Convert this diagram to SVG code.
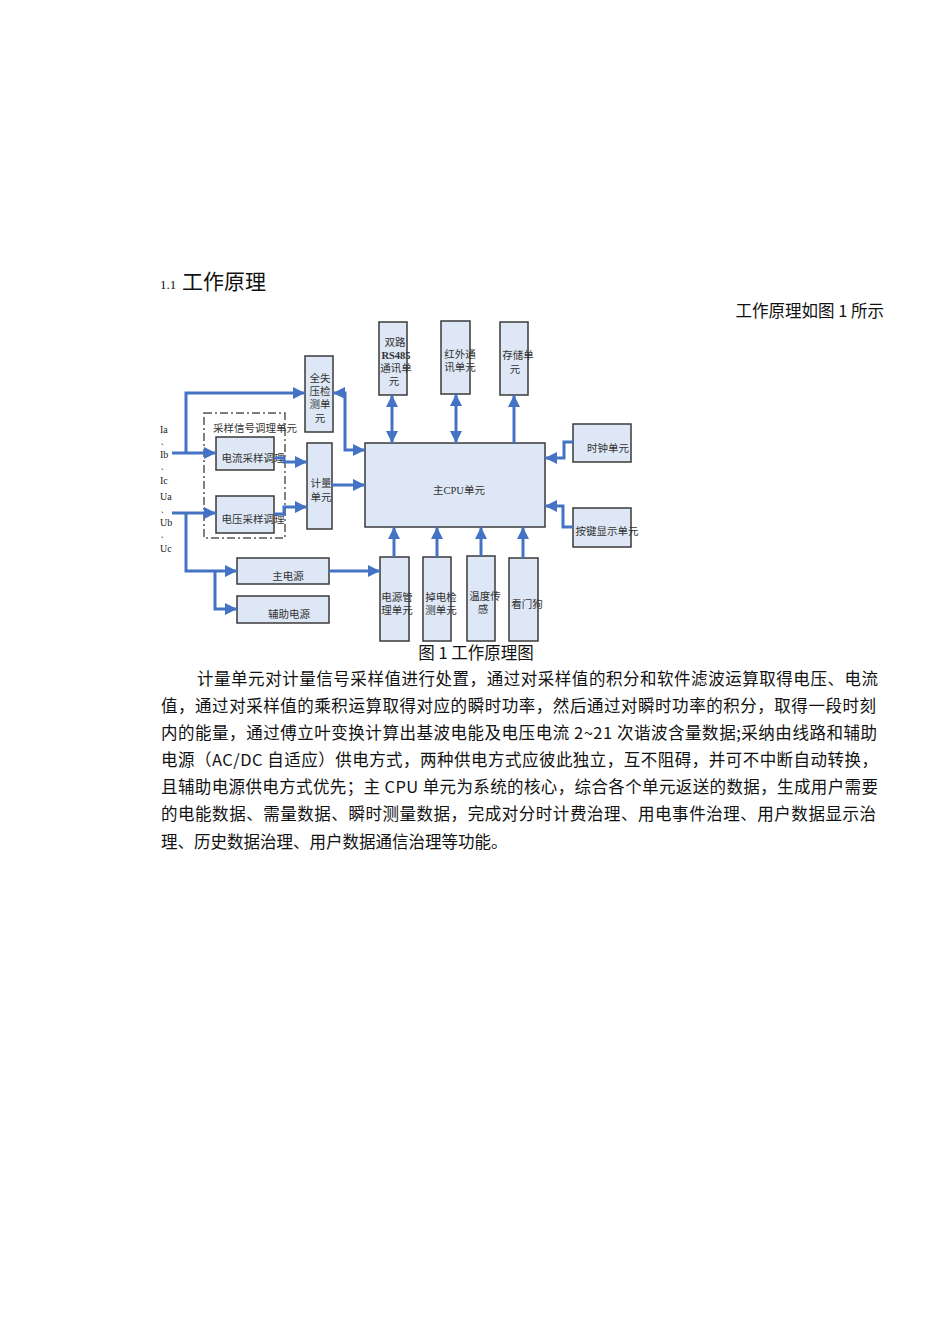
<svg xmlns="http://www.w3.org/2000/svg" width="950" height="1321" viewBox="0 0 950 1321">
<style>
.box{fill:#dde7f5;stroke:#3a3a3a;stroke-width:1.5}
.lbl{font-family:"Liberation Serif","Noto Sans CJK SC",serif;font-size:10.5px;fill:#333;text-anchor:middle}
.in{font-family:"Liberation Serif",serif;font-size:10px;fill:#222}
.con{fill:none;stroke:#4472c4;stroke-width:3}
.body{font-family:"Noto Sans CJK SC","Noto Sans",sans-serif;font-size:16.5px;fill:#111}
</style>
<defs>
<marker id="ah" viewBox="0 0 12 12" refX="12" refY="6" markerWidth="12" markerHeight="12" markerUnits="userSpaceOnUse" orient="auto-start-reverse">
<path d="M0,0 L12,6 L0,12 z" fill="#4472c4"/>
</marker>
</defs>
<rect width="950" height="1321" fill="#fff"/>

<g id="heading">
<text x="160" y="289" font-family="Liberation Serif,serif" font-size="13" fill="#111">1.1</text>
<text x="182" y="289" font-family="Noto Sans CJK SC,sans-serif" font-size="21" fill="#111">工作原理</text>
<text x="884" y="317" font-family="Noto Sans CJK SC,sans-serif" font-size="16.5" fill="#111" text-anchor="end">工作原理如图 1 所示</text>
</g>

<g id="inputs">
<text class="in" x="160" y="433">Ia</text>
<text class="in" x="160" y="444">、</text>
<text class="in" x="160" y="458">Ib</text>
<text class="in" x="160" y="469">、</text>
<text class="in" x="160" y="484">Ic</text>
<text class="in" x="160" y="500">Ua</text>
<text class="in" x="160" y="512">、</text>
<text class="in" x="160" y="526">Ub</text>
<text class="in" x="160" y="537">、</text>
<text class="in" x="160" y="552">Uc</text>
</g>

<g id="sampling-group">
<rect x="204" y="413" width="81" height="125" fill="none" stroke="#555" stroke-width="1.5" stroke-dasharray="8 3 2 3"/>
<text class="lbl" x="255" y="432">采样信号调理单元</text>
</g>
<g id="current-cond"><rect class="box" x="216" y="437" width="58" height="33"/><text class="lbl" x="253" y="462">电流采样调理</text></g>
<g id="voltage-cond"><rect class="box" x="216" y="496" width="58" height="37"/><text class="lbl" x="253" y="523">电压采样调理</text></g>
<g id="loss-detect"><rect class="box" x="305" y="356" width="28" height="76"/>
<text class="lbl" x="320" y="382">全失</text><text class="lbl" x="320" y="395">压检</text><text class="lbl" x="320" y="408">测单</text><text class="lbl" x="320" y="422">元</text></g>
<g id="metering"><rect class="box" x="307" y="443" width="25" height="86"/>
<text class="lbl" x="321" y="487">计量</text><text class="lbl" x="321" y="501">单元</text></g>
<g id="main-power"><rect class="box" x="237" y="558" width="92" height="26"/><text class="lbl" x="288" y="580">主电源</text></g>
<g id="aux-power"><rect class="box" x="237" y="596" width="92" height="27"/><text class="lbl" x="289" y="618">辅助电源</text></g>

<g id="cpu"><rect class="box" x="365" y="443" width="180" height="84"/><text class="lbl" x="459" y="494">主CPU单元</text></g>
<g id="rs485"><rect class="box" x="379" y="322" width="28" height="73"/>
<text class="lbl" x="395" y="346">双路</text><text class="lbl" x="396" y="359" font-weight="bold">RS485</text><text class="lbl" x="396" y="372">通讯单</text><text class="lbl" x="394" y="385">元</text></g>
<g id="infrared"><rect class="box" x="441" y="321" width="29" height="73"/>
<text class="lbl" x="460" y="358">红外通</text><text class="lbl" x="460" y="371">讯单元</text></g>
<g id="storage"><rect class="box" x="500" y="322" width="28" height="73"/>
<text class="lbl" x="518" y="359">存储单</text><text class="lbl" x="515" y="373">元</text></g>
<g id="clock"><rect class="box" x="573" y="424" width="58" height="38"/><text class="lbl" x="608" y="452">时钟单元</text></g>
<g id="keypad"><rect class="box" x="573" y="508" width="58" height="39"/><text class="lbl" x="607" y="535">按键显示单元</text></g>
<g id="power-mgmt"><rect class="box" x="380" y="557" width="29" height="84"/>
<text class="lbl" x="397" y="601">电源管</text><text class="lbl" x="397" y="614">理单元</text></g>
<g id="powerfail"><rect class="box" x="423" y="557" width="28" height="84"/>
<text class="lbl" x="441" y="601">掉电检</text><text class="lbl" x="441" y="614">测单元</text></g>
<g id="temp"><rect class="box" x="467" y="556" width="28" height="85"/>
<text class="lbl" x="485" y="600">温度传</text><text class="lbl" x="483" y="613">感</text></g>
<g id="watchdog"><rect class="box" x="509" y="558" width="29" height="83"/><text class="lbl" x="527" y="608">看门狗</text></g>

<g id="connectors">
<path class="con" d="M172,453 H216" marker-end="url(#ah)"/>
<path class="con" d="M186,453 V393 H305" marker-end="url(#ah)"/>
<path class="con" d="M172,513 H216" marker-end="url(#ah)"/>
<path class="con" d="M186,513 V571 H237" marker-end="url(#ah)"/>
<path class="con" d="M215,571 V609 H237" marker-end="url(#ah)"/>
<path class="con" d="M329,571 H380" marker-end="url(#ah)"/>
<path class="con" d="M274,458 H284 V462 H307" marker-end="url(#ah)"/>
<path class="con" d="M274,514 H284 V507 H307" marker-end="url(#ah)"/>
<path class="con" d="M332,485 H365" marker-end="url(#ah)"/>
<path class="con" d="M333,393 H345 V450 H365" marker-start="url(#ah)" marker-end="url(#ah)"/>
<path class="con" d="M392,395 V443" marker-start="url(#ah)" marker-end="url(#ah)"/>
<path class="con" d="M456,394 V443" marker-start="url(#ah)" marker-end="url(#ah)"/>
<path class="con" d="M514,443 V395" marker-end="url(#ah)"/>
<path class="con" d="M573,442 H564 V458 H545" marker-end="url(#ah)"/>
<path class="con" d="M573,527 H563 V506 H545" marker-end="url(#ah)"/>
<path class="con" d="M394,557 V527" marker-end="url(#ah)"/>
<path class="con" d="M437,557 V527" marker-end="url(#ah)"/>
<path class="con" d="M481,556 V527" marker-end="url(#ah)"/>
<path class="con" d="M523,558 V527" marker-end="url(#ah)"/>
</g>

<g id="caption"><text x="476" y="659" font-family="Noto Sans CJK SC,sans-serif" font-size="16.5" fill="#111" text-anchor="middle">图 1 工作原理图</text></g>

<g id="paragraph">
<text class="body" x="197" y="685" textLength="681" lengthAdjust="spacing">计量单元对计量信号采样值进行处置，通过对采样值的积分和软件滤波运算取得电压、电流</text>
<text class="body" x="161" y="712" textLength="715" lengthAdjust="spacing">值，通过对采样值的乘积运算取得对应的瞬时功率，然后通过对瞬时功率的积分，取得一段时刻</text>
<text class="body" x="161" y="739" textLength="716" lengthAdjust="spacing">内的能量，通过傅立叶变换计算出基波电能及电压电流 2~21 次谐波含量数据;采纳由线路和辅助</text>
<text class="body" x="161" y="766" textLength="717" lengthAdjust="spacing">电源（AC/DC 自适应）供电方式，两种供电方式应彼此独立，互不阻碍，并可不中断自动转换，</text>
<text class="body" x="161" y="793" textLength="717" lengthAdjust="spacing">且辅助电源供电方式优先；主 CPU 单元为系统的核心，综合各个单元返送的数据，生成用户需要</text>
<text class="body" x="161" y="820" textLength="715" lengthAdjust="spacing">的电能数据、需量数据、瞬时测量数据，完成对分时计费治理、用电事件治理、用户数据显示治</text>
<text class="body" x="161" y="848">理、历史数据治理、用户数据通信治理等功能。</text>
</g>
</svg>
